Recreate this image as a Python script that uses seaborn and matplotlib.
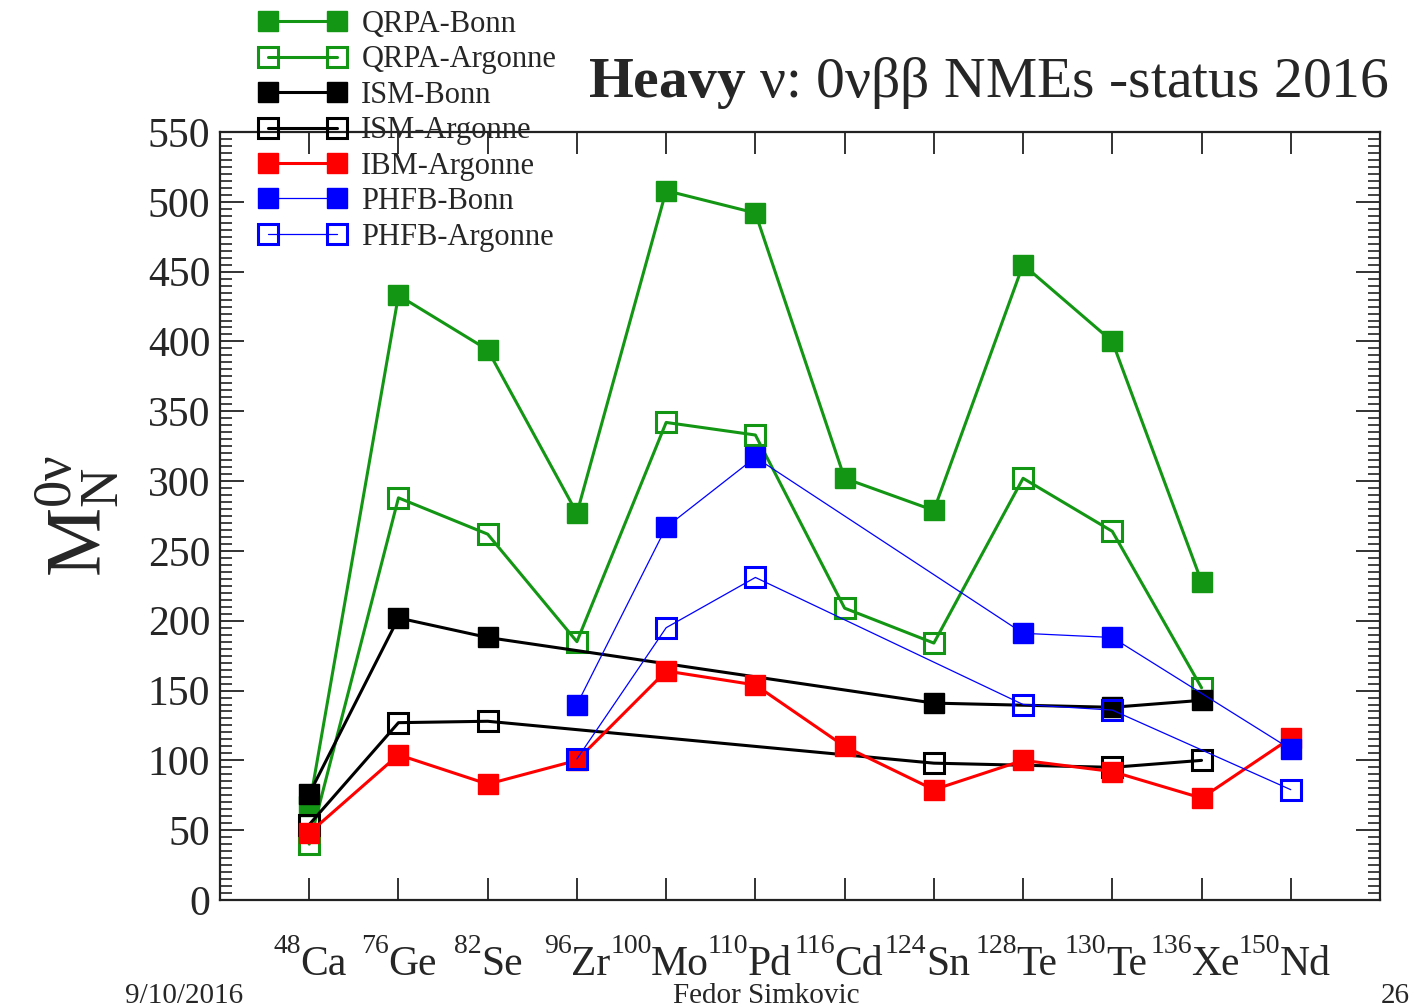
import numpy as np
import pandas as pd
import matplotlib
matplotlib.use("Agg")
import matplotlib.pyplot as plt
import matplotlib.transforms as mtransforms
from matplotlib.ticker import MultipleLocator, FixedLocator
import seaborn as sns

# ---------------- data ----------------
mass_numbers = ["48", "76", "82", "96", "100", "110", "116", "124", "128", "130", "136", "150"]
elements = ["Ca", "Ge", "Se", "Zr", "Mo", "Pd", "Cd", "Sn", "Te", "Te", "Xe", "Nd"]

nan = np.nan
qrpa_bonn = [67, 433, 394, 277, 508, 492, 302, 279, 455, 400, 228, nan]
qrpa_argonne = [40, 288, 262, 185, 342, 333, 209, 184, 302, 264, 152, nan]
ism_bonn = [76, 202, 188, nan, nan, nan, nan, 141, nan, 138, 143, nan]
ism_argonne = [54, 127, 128, nan, nan, nan, nan, 98, nan, 95, 100, nan]
ibm_argonne = [48, 104, 83, 100, 164, 154, 110, 79, 100, 92, 73, 116]
phfb_bonn = [nan, nan, nan, 140, 267, 317, nan, nan, 191, 188, nan, 108]
phfb_argonne = [nan, nan, nan, 101, 195, 231, nan, nan, 140, 136, nan, 79]

series_names = ["QRPA-Bonn", "QRPA-Argonne", "ISM-Bonn", "ISM-Argonne",
                "IBM-Argonne", "PHFB-Bonn", "PHFB-Argonne"]
series_values = [qrpa_bonn, qrpa_argonne, ism_bonn, ism_argonne,
                 ibm_argonne, phfb_bonn, phfb_argonne]

# ---------------- style ----------------
GREEN = "#139613"
styles = {
    "QRPA-Bonn":    dict(color=GREEN, filled=True, lw=2.2),
    "QRPA-Argonne": dict(color=GREEN, filled=False, lw=2.2),
    "ISM-Bonn":     dict(color="black", filled=True, lw=2.2),
    "ISM-Argonne":  dict(color="black", filled=False, lw=2.2),
    "IBM-Argonne":  dict(color="#ff0000", filled=True, lw=2.2),
    "PHFB-Bonn":    dict(color="#0000ff", filled=True, lw=0.9),
    "PHFB-Argonne": dict(color="#0000ff", filled=False, lw=0.9),
}

sns.set_style("white")
plt.rcParams["font.family"] = ["Liberation Serif", "DejaVu Serif"]
plt.rcParams["mathtext.fontset"] = "custom"
plt.rcParams["mathtext.rm"] = "Liberation Serif"
plt.rcParams["mathtext.it"] = "Liberation Serif:italic"
plt.rcParams["mathtext.bf"] = "Liberation Serif:bold"

fig = plt.figure(figsize=(14.14, 10.07), dpi=100)
ax = fig.add_axes([220 / 1414, 1 - 900 / 1007, 1160 / 1414, 768 / 1007])

positions = np.arange(len(elements))
for name, vals in zip(series_names, series_values):
    st = styles[name]
    df = pd.DataFrame({"x": positions, "y": vals}).dropna()
    if st["filled"]:
        mk = dict(markerfacecolor=st["color"], markeredgecolor=st["color"],
                  markeredgewidth=1.0, markersize=15)
    else:
        mk = dict(markerfacecolor="none", markeredgecolor=st["color"],
                  markeredgewidth=2.2, markersize=14)
    sns.lineplot(data=df, x="x", y="y", ax=ax, color=st["color"],
                 linewidth=st["lw"], marker="s", errorbar=None,
                 label=name, **mk)

ax.set_xlim(-1, 12)
ax.set_ylim(0, 550)

ax.xaxis.set_major_locator(FixedLocator(positions))
ax.set_xticklabels(elements)
ax.yaxis.set_major_locator(MultipleLocator(50))
ax.yaxis.set_minor_locator(MultipleLocator(5))

ax.tick_params(axis="x", which="major", direction="in", length=16, width=1.3,
               top=True, bottom=True, labelsize=30, pad=33, color="#222222")
ax.tick_params(axis="y", which="major", direction="in", length=17, width=1.3,
               left=True, right=True, labelsize=30, pad=7, color="#222222")
ax.tick_params(axis="y", which="minor", direction="in", length=8.5, width=1.2,
               left=True, right=True, color="#222222")

offset = mtransforms.ScaledTranslation(14 / 100, 0, fig.dpi_scale_trans)
for lab in ax.get_xticklabels():
    lab.set_transform(lab.get_transform() + offset)

# mass-number superscripts attached to the element tick labels
for lab, m in zip(ax.get_xticklabels(), mass_numbers):
    ax.annotate(m, xy=(0, 1), xycoords=lab, xytext=(0.5, 8.5),
                textcoords="offset points", ha="right", va="top",
                fontsize=20, annotation_clip=False)

for sp in ax.spines.values():
    sp.set_linewidth(1.6)
    sp.set_color("#222222")

ax.set_xlabel("")
ax.set_ylabel(r"$\mathrm{M}^{\mathrm{0ν}}_{\mathrm{N}}$", fontsize=56, labelpad=20)

leg = ax.legend(loc="upper left", bbox_to_anchor=(259 / 1414, 0.990),
                bbox_transform=fig.transFigure, frameon=False, numpoints=2,
                fontsize=22, handlelength=2.85, handletextpad=0.5,
                labelspacing=0.21, borderpad=0, borderaxespad=0)

fig.text(588 / 1414, 1 - 97 / 1007,
         r"$\mathbf{Heavy}$ ν: 0νββ NMEs -status 2016",
         fontsize=41.5, ha="left", va="baseline")

fig.text(125 / 1414, 4 / 1007, "9/10/2016", fontsize=21, ha="left", va="baseline")
fig.text(766 / 1414, 4 / 1007, "Fedor Simkovic", fontsize=21, ha="center", va="baseline")
fig.text(1410 / 1414, 4 / 1007, "26", fontsize=21, ha="right", va="baseline")

fig.savefig("out.png", dpi=100)
